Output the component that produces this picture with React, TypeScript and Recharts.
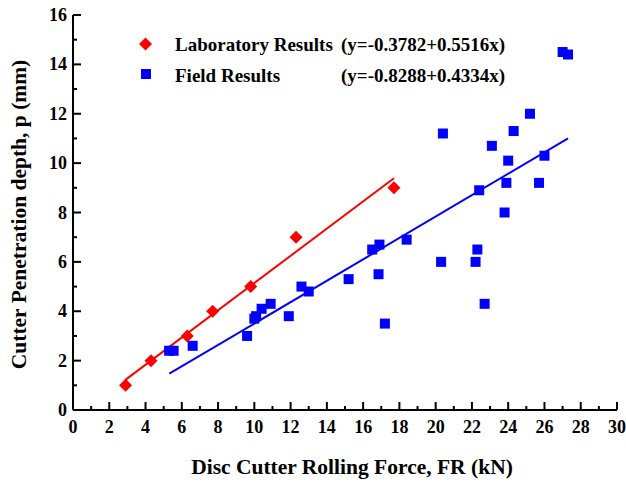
import { ComposedChart, ReferenceLine, Scatter, XAxis, YAxis, Legend } from "recharts";

// Laboratory results (red diamonds)
const labForce = [2.9, 4.3, 6.3, 7.7, 9.8, 12.3, 17.7];
const labDepth = [1.0, 2.0, 3.0, 4.0, 5.0, 7.0, 9.0];

// Field results (blue squares)
const fieldForce = [
  5.3, 5.55, 6.6, 9.6, 10.0, 10.1, 10.4, 10.9, 11.9, 12.6, 13.0, 15.2,
  16.5, 16.9, 16.85, 17.2, 18.4, 20.4, 20.3, 22.2, 22.3, 22.4, 22.7, 23.1,
  23.8, 23.9, 24.0, 24.3, 25.2, 25.7, 26.0, 27.0, 27.3,
];
const fieldDepth = [
  2.4, 2.4, 2.6, 3.0, 3.7, 3.8, 4.1, 4.3, 3.8, 5.0, 4.8, 5.3,
  6.5, 6.7, 5.5, 3.5, 6.9, 11.2, 6.0, 6.0, 6.5, 8.9, 4.3, 10.7,
  8.0, 9.2, 10.1, 11.3, 12.0, 9.2, 10.3, 14.5, 14.4,
];

// fitted line end points
const labFit = [
  { x: 2.87, y: 1.21 },
  { x: 17.7, y: 9.39 },
];
const fieldFit = [
  { x: 5.31, y: 1.47 },
  { x: 27.3, y: 11.0 },
];

const xTicks = [0, 1, 2, 3, 4, 5, 6, 7, 8, 9, 10, 11, 12, 13, 14, 15, 16, 17, 18, 19, 20, 21, 22, 23, 24, 25, 26, 27, 28, 29, 30];
const yTicks = [0, 1, 2, 3, 4, 5, 6, 7, 8, 9, 10, 11, 12, 13, 14, 15, 16];

const labData = labForce.map((x, i) => ({ x, y: labDepth[i] }));
const fieldData = fieldForce.map((x, i) => ({ x, y: fieldDepth[i] }));

const FONT = "'Liberation Serif', 'Times New Roman', serif";

const Diamond = ({ cx, cy }: any) => (
  <polygon points={`${cx},${cy - 6.5} ${cx + 6.5},${cy} ${cx},${cy + 6.5} ${cx - 6.5},${cy}`} fill="#ff0000" />
);
const Square = ({ cx, cy }: any) => <rect x={cx - 5} y={cy - 5} width={10} height={10} fill="#0000ff" />;

const XTick = ({ x, y, payload }: any) => {
  const major = payload.value % 2 === 0;
  return (
    <g>
      <line x1={x} x2={x} y1={y} y2={y - (major ? 8 : 4)} stroke="#000" strokeWidth={2} />
      {major && (
        <text x={x} y={y + 23} textAnchor="middle" fontFamily={FONT} fontWeight="bold" fontSize={18} fill="#000">
          {payload.value}
        </text>
      )}
    </g>
  );
};

const YTick = ({ x, y, payload }: any) => {
  const major = payload.value % 2 === 0;
  return (
    <g>
      <line x1={x} x2={x + (major ? 8 : 4)} y1={y} y2={y} stroke="#000" strokeWidth={2} />
      {major && (
        <text x={x - 6} y={y + 6} textAnchor="end" fontFamily={FONT} fontWeight="bold" fontSize={18} fill="#000">
          {payload.value}
        </text>
      )}
    </g>
  );
};

const LegendBox = () => {
  const txt = { fontFamily: FONT, fontWeight: "bold", fontSize: 19, fill: "#000" } as const;
  return (
    <svg width={626} height={100} style={{ display: "block" }}>
      <polygon points="145.5,37.5 152,44 145.5,50.5 139,44" fill="#ff0000" />
      <text x={175} y={51} {...txt}>Laboratory Results</text>
      <text x={341} y={51} {...txt}>(y=-0.3782+0.5516x)</text>
      <rect x={141} y={69} width={10} height={10} fill="#0000ff" />
      <text x={175} y={81.5} {...txt}>Field Results</text>
      <text x={341} y={81.5} {...txt}>(y=-0.8288+0.4334x)</text>
    </svg>
  );
};

const App = () => {
  return (
    <div style={{ position: "absolute", left: 0, top: 0, background: "#fff" }}>
      <ComposedChart width={626} height={482} margin={{ top: 15, right: 9, bottom: 0, left: 0 }}>
        <XAxis
          type="number"
          dataKey="x"
          domain={[0, 30]}
          ticks={xTicks}
          interval={0}
          height={72}
          tickSize={0}
          tickMargin={0}
          tickLine={false}
          tick={<XTick />}
          axisLine={{ stroke: "#000", strokeWidth: 2 }}
          label={{
            value: "Disc Cutter Rolling Force, FR (kN)",
            position: "insideBottom",
            offset: 8,
            dx: 7,
            style: { fontFamily: FONT, fontWeight: "bold", fontSize: 21.5, fill: "#000" },
          }}
        />
        <YAxis
          type="number"
          dataKey="y"
          domain={[0, 16]}
          ticks={yTicks}
          interval={0}
          width={73}
          tickSize={0}
          tickMargin={0}
          tickLine={false}
          tick={<YTick />}
          axisLine={{ stroke: "#000", strokeWidth: 2 }}
          label={{
            value: "Cutter Penetration depth, p (mm)",
            angle: -90,
            position: "insideLeft",
            offset: 18.5,
            dy: 2,
            style: { fontFamily: FONT, fontWeight: "bold", fontSize: 21.5, fill: "#000", textAnchor: "middle" },
          }}
        />
        <Legend verticalAlign="middle" align="center" layout="horizontal" wrapperStyle={{ left: 0, top: 0, width: 626 }} content={<LegendBox />} />
        <ReferenceLine segment={labFit} stroke="#ff0000" strokeWidth={2} ifOverflow="extendDomain" />
        <ReferenceLine segment={fieldFit} stroke="#0000ff" strokeWidth={2} ifOverflow="extendDomain" />
        <Scatter name="Laboratory Results" data={labData} shape={<Diamond />} isAnimationActive={false} />
        <Scatter name="Field Results" data={fieldData} shape={<Square />} isAnimationActive={false} />
      </ComposedChart>
    </div>
  );
};

export default App;
